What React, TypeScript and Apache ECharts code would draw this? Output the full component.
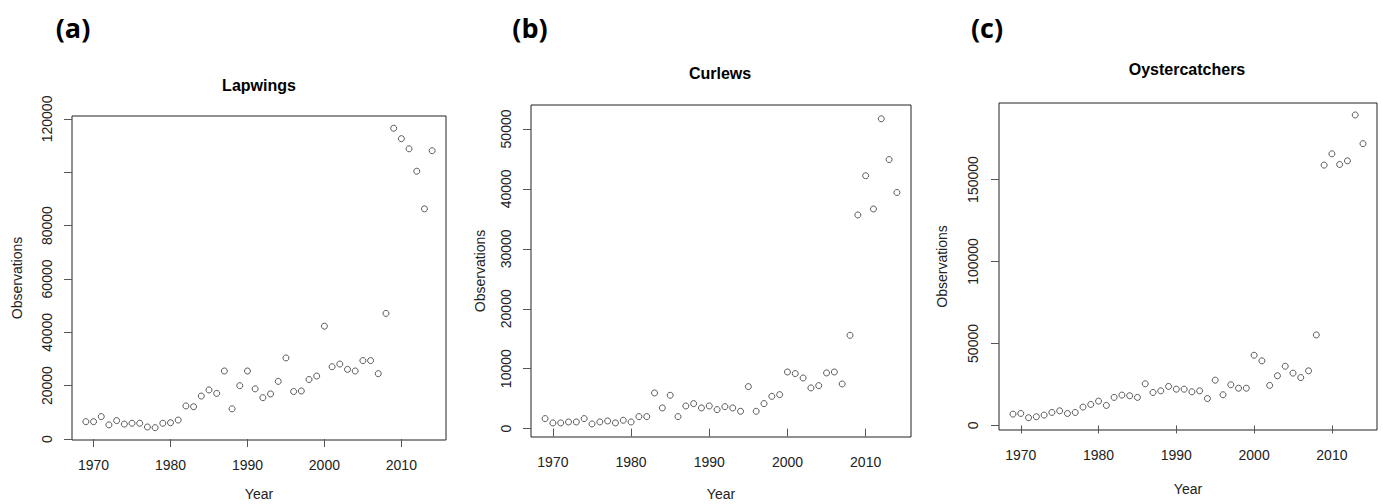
import React, { useEffect, useRef } from "react";
import * as echarts from "echarts";

const years = [
  1969, 1970, 1971, 1972, 1973, 1974, 1975, 1976, 1977, 1978, 1979, 1980,
  1981, 1982, 1983, 1984, 1985, 1986, 1987, 1988, 1989, 1990, 1991, 1992,
  1993, 1994, 1995, 1996, 1997, 1998, 1999, 2000, 2001, 2002, 2003, 2004,
  2005, 2006, 2007, 2008, 2009, 2010, 2011, 2012, 2013, 2014,
];

const lapwings = [
  6500, 6500, 8400, 5300, 6900, 5600, 5900, 5900, 4500, 4250, 5900, 6100,
  7100, 12400, 12100, 16100, 18400, 17100, 25500, 11300, 20000, 25500, 18800, 15500,
  16900, 21600, 30400, 17800, 18000, 22300, 23600, 42300, 27100, 28100, 26100, 25500,
  29400, 29400, 24500, 47100, 116500, 112600, 108800, 100400, 86300, 108100,
];

const curlews = [
  1670, 950, 950, 1110, 1110, 1670, 780, 1110, 1280, 950, 1390, 1110,
  2000, 2000, 5950, 3450, 5560, 2000, 3780, 4170, 3450, 3780, 3170, 3670,
  3450, 2890, 7010, 2890, 4170, 5390, 5670, 9450, 9180, 8450, 6790, 7170,
  9290, 9450, 7450, 15570, 35650, 42200, 36650, 51700, 44900, 39400,
];

const oystercatchers = [
  6900, 7300, 4700, 5300, 6300, 7900, 8900, 7300, 7900, 11200, 12800, 14800,
  12200, 17100, 18500, 18100, 17100, 25400, 20100, 21100, 23800, 22100, 22100, 20500,
  21100, 16400, 27600, 18700, 24800, 22700, 22700, 42800, 39400, 24400, 30300, 36100,
  31900, 29200, 33300, 55200, 158800, 165700, 159200, 161400, 189400, 171900,
];

const yearTicks = [1970, 1980, 1990, 2000, 2010];
const lapTicks = [0, 20000, 40000, 60000, 80000, 100000, 120000];
const lapLabels = [0, 20000, 40000, 60000, 80000, 120000];
const curTicks = [0, 10000, 20000, 30000, 40000, 50000];
const oysTicks = [0, 50000, 100000, 150000];

const titles = ["Lapwings", "Curlews", "Oystercatchers"];
const letters = ["(a)", "(b)", "(c)"];

const FONT = "Liberation Sans, Arial, sans-serif";

export default function App() {
  const ref = useRef<HTMLDivElement>(null);

  useEffect(() => {
    if (!ref.current) return;
    const chart = echarts.init(ref.current, undefined, { renderer: "svg" });

    const panels = [
      {
        grid: { left: 72, top: 116, width: 374, height: 324 },
        ymin: -375, ymax: 121100, ticks: lapTicks, labels: lapLabels, data: lapwings,
        titleX: 259, titleY: 85, letterX: 73, yLabelMargin: 18, yNameGap: 48,
        xLabelMargin: 18, xNameGap: 47,
      },
      {
        grid: { left: 531, top: 105, width: 380, height: 332 },
        ymin: -1400, ymax: 54000, ticks: curTicks, labels: curTicks, data: curlews,
        titleX: 720, titleY: 73, letterX: 530, yLabelMargin: 18, yNameGap: 44,
        xLabelMargin: 18, xNameGap: 50,
      },
      {
        grid: { left: 999, top: 103, width: 378, height: 327 },
        ymin: -2800, ymax: 196700, ticks: oysTicks, labels: oysTicks, data: oystercatchers,
        titleX: 1187, titleY: 69, letterX: 987, yLabelMargin: 19, yNameGap: 50,
        xLabelMargin: 18, xNameGap: 52,
      },
    ];

    const option: any = {
      animation: false,
      backgroundColor: "#ffffff",
      textStyle: { fontFamily: FONT },
      grid: panels.map((p) => ({
        ...p.grid,
        show: true,
        borderColor: "#222",
        borderWidth: 1,
        backgroundColor: "transparent",
        containLabel: false,
        outerBoundsMode: "none",
      })),
      xAxis: panels.map((p, i) => ({
        type: "value",
        gridIndex: i,
        min: 1967.2,
        max: 2015.8,
        splitLine: { show: false },
        axisLine: { show: false },
        axisTick: {
          show: true,
          inside: false,
          length: 8,
          customValues: yearTicks,
          lineStyle: { color: "#555", width: 1 },
        },
        axisLabel: {
          customValues: yearTicks,
          margin: p.xLabelMargin,
          fontSize: 14,
          color: "#222",
          fontFamily: FONT,
          formatter: (v: number) => String(v),
        },
        name: "Year",
        nameLocation: "middle",
        nameGap: p.xNameGap,
        nameMoveOverlap: false,
        nameTextStyle: { fontSize: 14, color: "#222", fontFamily: FONT },
      })),
      yAxis: panels.map((p, i) => ({
        type: "value",
        gridIndex: i,
        min: p.ymin,
        max: p.ymax,
        splitLine: { show: false },
        axisLine: { show: false },
        axisTick: {
          show: true,
          inside: false,
          length: 8,
          customValues: p.ticks,
          lineStyle: { color: "#555", width: 1 },
        },
        axisLabel: {
          customValues: p.labels,
          rotate: 90,
          margin: p.yLabelMargin,
          fontSize: 14,
          color: "#222",
          fontFamily: FONT,
          formatter: (v: number) => String(v),
        },
        name: "Observations",
        nameLocation: "middle",
        nameRotate: 90,
        nameGap: p.yNameGap,
        nameMoveOverlap: false,
        nameTextStyle: { fontSize: 14, color: "#222", fontFamily: FONT },
      })),
      series: panels.map((p, i) => ({
        type: "scatter",
        xAxisIndex: i,
        yAxisIndex: i,
        symbol: "circle",
        symbolSize: 6,
        itemStyle: { color: "transparent", borderColor: "#333", borderWidth: 1 },
        data: years.map((y, k) => [y, p.data[k]]),
      })),
      graphic: [
        ...panels.map((p, i) => ({
          type: "text",
          x: p.titleX,
          y: p.titleY,
          style: {
            text: titles[i],
            font: `bold 16px ${FONT}`,
            fill: "#000",
            textAlign: "center",
            textVerticalAlign: "middle",
          },
        })),
        ...panels.map((p, i) => ({
          type: "text",
          x: p.letterX,
          y: 27,
          style: {
            text: letters[i],
            font: `bold 27px "Open Sans", sans-serif`,
            fill: "#000",
            textAlign: "center",
            textVerticalAlign: "middle",
          },
        })),
      ],
    };

    chart.setOption(option);
    return () => chart.dispose();
  }, []);

  return (
    <div
      ref={ref}
      style={{ position: "absolute", left: 0, top: 0, width: 1383, height: 504 }}
    />
  );
}
